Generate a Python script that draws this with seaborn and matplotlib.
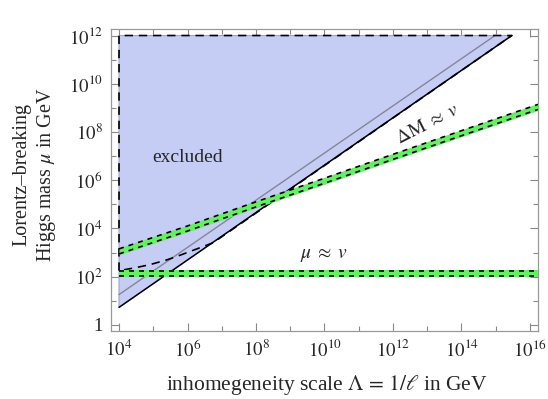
import numpy as np
import matplotlib.pyplot as plt
import seaborn as sns
from matplotlib.ticker import FixedLocator, FixedFormatter, NullFormatter

# all values are log10 exponents
x_range = [3.766, 16.234]
y_range = [-0.25, 12.27]

excl_lx = [4.0, 15.47, 4.0]
excl_ly = [0.73, 12.0, 12.0]
gray_lx = [4.0, 14.98]
gray_ly = [1.26, 12.0]
bound_lx = [4.0, 15.47]
bound_ly = [0.73, 12.0]
contour_lx = [4.0, 4.0, 15.47, 6.75, 6.36, 5.8, 5.4, 4.9, 4.5, 4.0]
contour_ly = [2.25, 12.0, 12.0, 3.41, 3.2, 2.9, 2.7, 2.5, 2.38, 2.25]
dm_lx = [4.0, 6.0, 8.0, 10.0, 12.0, 14.0, 16.234]
dm_ly = [3.05, 4.0, 5.0, 5.98, 6.97, 7.95, 9.04]
mu_lx = [4.0, 16.234]
mu_ly = [2.125, 2.125]

x_major = [4, 6, 8, 10, 12, 14, 16]
x_minor = [5, 7, 9, 11, 13, 15]
y_major = [0, 2, 4, 6, 8, 10, 12]
y_minor = [1, 3, 5, 7, 9, 11]
x_labels = [f"$10^{{{e}}}$" for e in x_major]
y_labels = ["1"] + [f"$10^{{{e}}}$" for e in y_major[1:]]

sns.set_style("ticks")
plt.rcParams['font.family'] = ['Liberation Serif', 'DejaVu Serif']
plt.rcParams['mathtext.fontset'] = 'stix'

p = lambda v: 10 ** np.asarray(v, dtype=float)

fig = plt.figure(figsize=(5.48, 3.99), dpi=100)
ax = fig.add_axes([111 / 548, 1 - 331 / 399, 427 / 548, 302 / 399])
ax.set_xscale('log')
ax.set_yscale('log')

ax.fill(p(excl_lx), p(excl_ly), facecolor='#c6cdf4', edgecolor='#9aa3d8', lw=0.8, zorder=1)
ax.plot(p(gray_lx), p(gray_ly), color='#85859a', lw=1.0, zorder=2)
ax.plot(p(bound_lx), p(bound_ly), color='black', lw=1.1, zorder=2)
ax.plot(p(contour_lx), p(contour_ly), color='black', lw=1.2,
        linestyle=(0, (5, 3.5)), zorder=3)

band_w, dash_w = 0.145, 0.105
for lx, ly in [(dm_lx, dm_ly), (mu_lx, mu_ly)]:
    ly = np.asarray(ly)
    ax.fill_between(p(lx), p(ly - band_w), p(ly + band_w), color='#66ee66', lw=0, zorder=4)
    for s in (-dash_w, dash_w):
        sns.lineplot(x=p(lx), y=p(ly + s), ax=ax, color='black', lw=1.2,
                     linestyle=(0, (3, 3)), sort=False, estimator=None, zorder=5)

ax.text(10 ** 5.99, 10 ** 6.95, "excluded", ha='center', va='center', fontsize=14)
ax.text(10 ** 13.02, 10 ** 8.32, r"$\Delta\mathrm{M}\;\approx\;v$", ha='center', va='center',
        fontsize=14, rotation=27)
ax.text(10 ** 9.99, 10 ** 2.9, r"$\mu\;\approx\;v$", ha='center', va='center', fontsize=14)

ax.set_xlim(p(x_range))
ax.set_ylim(p(y_range))
ax.xaxis.set_major_locator(FixedLocator(p(x_major)))
ax.xaxis.set_major_formatter(FixedFormatter(x_labels))
ax.xaxis.set_minor_locator(FixedLocator(p(x_minor)))
ax.xaxis.set_minor_formatter(NullFormatter())
ax.yaxis.set_major_locator(FixedLocator(p(y_major)))
ax.yaxis.set_major_formatter(FixedFormatter(y_labels))
ax.yaxis.set_minor_locator(FixedLocator(p(y_minor)))
ax.yaxis.set_minor_formatter(NullFormatter())

ax.tick_params(which='both', direction='in', top=True, right=True, color='#888888')
ax.tick_params(which='major', length=6, width=0.8, labelsize=13.5, pad=6)
ax.tick_params(which='minor', length=3.5, width=0.8)
for sp in ax.spines.values():
    sp.set_color('#999999')
    sp.set_linewidth(0.9)

fig.text(35 / 548, 1 - 175 / 399, "Lorentz\u2013breaking\nHiggs mass $\\mu$ in GeV",
         rotation=90, ha='center', va='center', fontsize=14.5, linespacing=1.25)
fig.text(327 / 548, 1 - 385 / 399, r"inhomegeneity scale $\Lambda\,=\,1/\ell$ in GeV",
         ha='center', va='center', fontsize=15.5)

fig.savefig('out.png', dpi=100)
